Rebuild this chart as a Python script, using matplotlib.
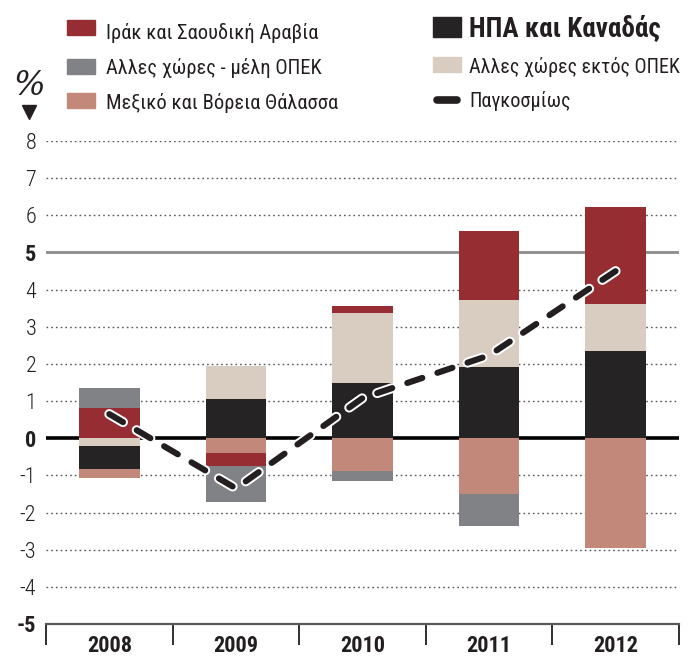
import numpy as np
import matplotlib.pyplot as plt
import matplotlib.patheffects as pe
from matplotlib.patches import Rectangle
from matplotlib.lines import Line2D

plt.rcParams["font.family"] = ["Roboto Condensed", "Liberation Sans Narrow", "Roboto", "DejaVu Sans"]

# data (% change)
years = ["2008", "2009", "2010", "2011", "2012"]
iraq_saudi = [0.81, -0.35, 0.19, 1.86, 2.61]
opec_other = [0.54, -0.97, -0.27, -0.86, 0.0]
mexico_north_sea = [-0.22, -0.40, -0.89, -1.51, -2.96]
usa_canada = [-0.62, 1.05, 1.48, 1.91, 2.34]
non_opec_other = [-0.22, 0.89, 1.88, 1.80, 1.27]
world = [0.65, -1.35, 1.08, 2.23, 4.50]
yticks = [-5, -4, -3, -2, -1, 0, 1, 2, 3, 4, 5, 6, 7, 8]

series = {
    "iraq": (iraq_saudi, "#962d33"),
    "opec": (opec_other, "#818285"),
    "mex": (mexico_north_sea, "#c2897a"),
    "usa": (usa_canada, "#252324"),
    "nonopec": (non_opec_other, "#d9ccc0"),
}
pos_order = ["usa", "nonopec", "iraq", "opec", "mex"]
neg_order = ["nonopec", "usa", "mex", "iraq", "opec"]

W, H = 692, 668
fig = plt.figure(figsize=(W / 100, H / 100), dpi=100)
ax = fig.add_axes([46 / W, 1 - 624 / H, (679 - 46) / W, (624 - 141) / H])

x = np.arange(len(years))
bw = 0.48

# grid
for t in yticks:
    if t == 0:
        ax.axhline(0, color="black", lw=2.6, zorder=1)
    elif t == 5:
        ax.axhline(5, color="#8c8c8c", lw=2, zorder=1)
    elif t != -5:
        ax.axhline(t, color="#555555", lw=1, ls=(0, (1.2, 2.2)), zorder=1)

# stacked bars: positives go up from zero, negatives go down
base = np.zeros(len(years))
for k in pos_order:
    vals, col = series[k]
    v = np.clip(np.array(vals), 0, None)
    ax.bar(x, v, bw, bottom=base, color=col, zorder=2)
    base += v
base = np.zeros(len(years))
for k in neg_order:
    vals, col = series[k]
    v = np.clip(np.array(vals), None, 0)
    ax.bar(x, v, bw, bottom=base, color=col, zorder=2)
    base += v

ax.plot(x, world, color="#231f20", lw=4.4, dashes=(2.6, 2.6),
        dash_capstyle="round", solid_capstyle="round", zorder=5,
        path_effects=[pe.Stroke(linewidth=7.2, foreground="white"), pe.Normal()])

ax.set_xlim(-0.5, 4.5)
ax.set_ylim(-5, 8)
for s in ["top", "left", "right"]:
    ax.spines[s].set_visible(False)
ax.spines["bottom"].set_color("#5a5a5a")
ax.spines["bottom"].set_linewidth(1.6)

ax.set_yticks(yticks)
ax.set_yticklabels([str(t) for t in yticks])
for lab, t in zip(ax.get_yticklabels(), yticks):
    lab.set_fontsize(16)
    lab.set_color("#231f20")
    if t in (0, 5, -5):
        lab.set_fontweight("bold")
    else:
        lab.set_fontweight("light")
ax.tick_params(axis="y", length=0, pad=7)

ax.set_xticks(x)
ax.set_xticklabels(years, fontsize=16, fontweight="bold", color="#231f20")
ax.set_xticks(np.arange(-0.5, 5, 1), minor=True)
ax.tick_params(axis="x", which="major", length=0, pad=8)
ax.tick_params(axis="x", which="minor", length=15, width=1.3, color="#231f20")


def px(xp, yp):
    return xp / W, 1 - yp / H


# legend drawn by hand
left = [("Ιράκ και Σαουδική Αραβία", "#962d33", 20, 33),
        ("Αλλες χώρες - μέλη ΟΠΕΚ", "#818285", 59, 68),
        ("Μεξικό και Βόρεια Θάλασσα", "#c2897a", 93, 103)]
for txt, col, top, yc in left:
    fig.add_artist(Rectangle(px(67, top + 15), 28 / W, 15 / H, color=col,
                             transform=fig.transFigure))
    fig.text(*px(106, yc), txt, fontsize=14.8, color="#231f20", va="center")

fig.add_artist(Rectangle(px(433, 37), 28 / W, 20 / H, color="#252324",
                         transform=fig.transFigure))
fig.text(*px(469, 29), "ΗΠΑ και Καναδάς", fontsize=19.5, fontweight="bold",
         color="#231f20", va="center")
fig.add_artist(Rectangle(px(433, 72), 28 / W, 15 / H, color="#d9ccc0",
                         transform=fig.transFigure))
fig.text(*px(469, 67), "Αλλες χώρες εκτός ΟΠΕΚ", fontsize=14.5,
         color="#231f20", va="center")
fig.add_artist(Line2D([437 / W, 457 / W], [1 - 100 / H, 1 - 100 / H], lw=5.5,
                      color="#231f20", solid_capstyle="round",
                      transform=fig.transFigure))
fig.text(*px(469, 101), "Παγκοσμίως", fontsize=14.5, color="#231f20", va="center")

fig.text(*px(29, 86), "%", fontsize=24, color="#231f20", ha="center",
         va="center", family="DejaVu Serif", style="italic", fontweight="light")
fig.add_artist(Line2D([29 / W], [1 - 112 / H], marker="v", markersize=10,
                      color="#231f20", transform=fig.transFigure))

fig.savefig("out.png", dpi=100)
